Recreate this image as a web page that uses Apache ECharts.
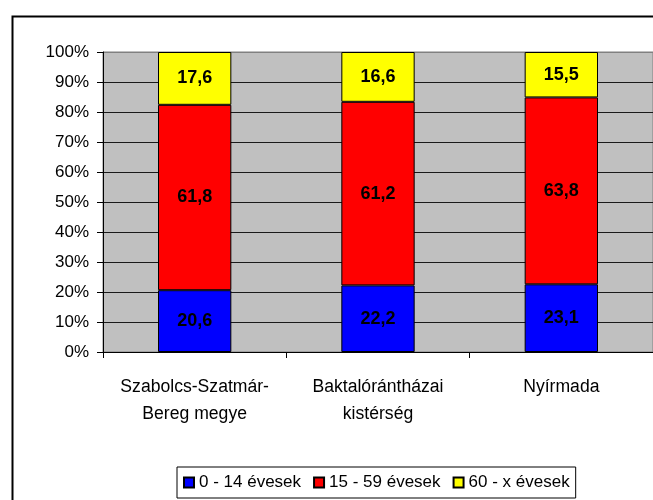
<!DOCTYPE html>
<html>
<head>
<meta charset="utf-8">
<script src="https://cdn.jsdelivr.net/npm/echarts@6/dist/echarts.min.js"></script>
<style>
html,body{margin:0;padding:0;background:#fff;}
#chart{width:653px;height:500px;}
</style>
</head>
<body>
<div id="chart"></div>
<script>
var categories = ['Szabolcs-Szatmár-\nBereg megye', 'Baktalórántházai\nkistérség', 'Nyírmada'];
var seriesNames = ['0 - 14 évesek', '15 - 59 évesek', '60 - x évesek'];
var age0_14 = [20.6, 22.2, 23.1];
var age15_59 = [61.8, 61.2, 63.8];
var age60_x = [17.6, 16.6, 15.5];
var yTicks = [0, 10, 20, 30, 40, 50, 60, 70, 80, 90, 100];
var colors = ['#0000FF', '#FF0000', '#FFFF00'];

var FONT = '"Liberation Sans Narrow", "Liberation Sans", Arial, sans-serif';
var raw = [age0_14, age15_59, age60_x];
var totals = categories.map(function (c, i) { return age0_14[i] + age15_59[i] + age60_x[i]; });

var series = raw.map(function (vals, s) {
  return {
    name: seriesNames[s],
    type: 'bar',
    stack: 'total',
    barWidth: '40%',
    data: vals.map(function (v, i) { return { value: v / totals[i] * 100, raw: v }; }),
    itemStyle: { color: colors[s], borderColor: '#000', borderWidth: 1 },
    label: {
      show: true,
      position: 'inside',
      color: '#000',
      fontFamily: FONT,
      fontWeight: 'bold',
      fontSize: 18,
      formatter: function (p) { return String(p.data.raw).replace('.', ','); }
    }
  };
});

var gridLineColors = yTicks.map(function (t) { return t === 100 ? '#808080' : '#1a1a1a'; });

var chart = echarts.init(document.getElementById('chart'));
chart.setOption({
  animation: false,
  backgroundColor: '#fff',
  graphic: [{
    type: 'rect',
    left: 10, top: 14,
    shape: { x: 0, y: 0, width: 700, height: 600 },
    style: { fill: 'none', stroke: '#000', lineWidth: 2 },
    z: -1
  }],
  grid: {
    left: 103, right: -1, top: 52, bottom: 148,
    show: true, backgroundColor: '#C0C0C0', borderColor: '#808080', borderWidth: 1
  },
  legend: {
    left: 177, top: 467,
    padding: [7, 6, 7, 6],
    itemGap: 12,
    itemWidth: 10, itemHeight: 10,
    icon: 'rect',
    borderColor: '#000', borderWidth: 1,
    textStyle: { fontFamily: FONT, fontSize: 17, color: '#000' },
    data: seriesNames
  },
  xAxis: {
    type: 'category',
    data: categories,
    axisLine: { lineStyle: { color: '#000', width: 1 } },
    axisTick: { show: true, length: 6, lineStyle: { color: '#000' } },
    axisLabel: { fontFamily: FONT, fontSize: 17.6, lineHeight: 27, color: '#000', margin: 22, interval: 0 }
  },
  yAxis: {
    type: 'value',
    min: 0, max: 100, interval: 10,
    axisLine: { show: true, lineStyle: { color: '#000', width: 1 } },
    axisTick: { show: true, length: 6, lineStyle: { color: '#000' } },
    axisLabel: { fontFamily: FONT, fontSize: 17, color: '#000', margin: 14,
      formatter: function (v) { return v + '%'; } },
    splitLine: { show: true, lineStyle: { color: gridLineColors, width: 1 } }
  },
  series: series
});
</script>
</body>
</html>
